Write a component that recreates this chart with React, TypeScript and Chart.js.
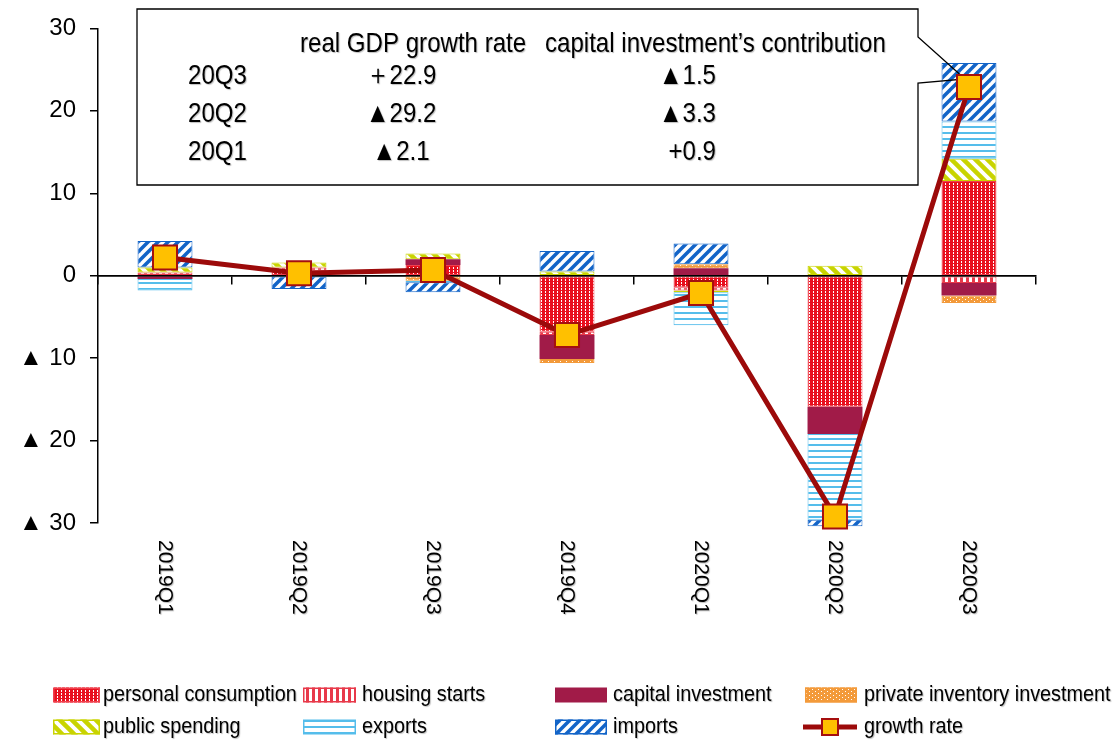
import React, { useEffect, useRef } from 'react';
import { Chart, registerables } from 'chart.js';

Chart.register(...registerables);

// ---------- data ----------
const categories = ['2019Q1', '2019Q2', '2019Q3', '2019Q4', '2020Q1', '2020Q2', '2020Q3'];
const personalConsumption = [0, 0.6, 1.3, -6.8, -1.4, -15.9, 11.5];
const housingStarts = [0.4, 0.4, 0, -0.4, -0.4, 0, -0.9];
const capitalInvestment = [-0.4, 0, 0.7, -2.9, 0.9, -3.3, -1.5];
const privateInventory = [0, 0, -0.6, -0.5, 0.5, 0, -0.9];
const publicSpending = [0.6, 0.6, 0.7, 0.5, -0.2, 1.2, 2.7];
const exportsContribution = [-1.4, 0, -0.2, 0, -4.0, -10.4, 4.5];
const importsContribution = [3.2, -1.6, -1.2, 2.5, 2.5, -0.8, 7.1];
const growthRate = [2.2, 0.3, 0.7, -7.2, -2.1, -29.2, 22.9];

const seriesLabels = [
  'personal consumption',
  'housing starts',
  'capital investment',
  'private inventory investment',
  'public spending',
  'exports',
  'imports',
  'growth rate',
];

const yTickValues = [-30, -20, -10, 0, 10, 20, 30];
const yTickLabels = ['▲ 30', '▲ 20', '▲ 10', '0', '10', '20', '30'];

const calloutHeaders = ['real GDP growth rate', 'capital investment\u2019s contribution'];
const calloutQuarters = ['20Q3', '20Q2', '20Q1'];
const calloutGrowth = ['\uFF0B22.9', '▲29.2', '▲2.1'];
const calloutCapital = ['▲1.5', '▲3.3', '+0.9'];

// ---------- styles ----------
const FONT = "'Liberation Sans', Arial, sans-serif";
const RED = '#E8101E';
const HOUSING = '#E8394A';
const CAPITAL = '#A11B48';
const INVENTORY = '#F39A3A';
const PUBLIC = '#C9D400';
const EXPORTS = '#55BDEB';
const IMPORTS = '#1264C8';
const LINE = '#9C0A0A';
const POINT = '#FFC000';

function tile(w: number, h: number, draw: (g: CanvasRenderingContext2D) => void) {
  const c = document.createElement('canvas');
  c.width = w;
  c.height = h;
  const g = c.getContext('2d')!;
  draw(g);
  return c;
}

function diag(g: CanvasRenderingContext2D, s: number, color: string, lw: number, forward: boolean) {
  g.fillStyle = '#fff';
  g.fillRect(0, 0, s, s);
  g.strokeStyle = color;
  g.lineWidth = lw;
  g.lineCap = 'square';
  for (let k = -1; k <= 1; k++) {
    g.beginPath();
    if (forward) {
      g.moveTo(k * s, s);
      g.lineTo(k * s + s, 0);
    } else {
      g.moveTo(k * s, 0);
      g.lineTo(k * s + s, s);
    }
    g.stroke();
  }
}

function buildPatterns(ctx: CanvasRenderingContext2D) {
  const p = (c: HTMLCanvasElement) => ctx.createPattern(c, 'repeat') as CanvasPattern;
  return {
    personal: p(
      tile(4, 3, (g) => {
        g.fillStyle = RED;
        g.fillRect(0, 0, 4, 3);
        g.fillStyle = '#fff';
        g.fillRect(1, 0, 1, 2);
      })
    ),
    housing: p(
      tile(6, 4, (g) => {
        g.fillStyle = '#fff';
        g.fillRect(0, 0, 6, 4);
        g.fillStyle = HOUSING;
        g.fillRect(0, 0, 3, 4);
      })
    ),
    inventory: p(
      tile(6, 4, (g) => {
        g.fillStyle = INVENTORY;
        g.fillRect(0, 0, 6, 4);
        g.fillStyle = '#fff';
        g.fillRect(2, 1, 1, 1);
        g.fillRect(5, 3, 1, 1);
      })
    ),
    publicSp: p(tile(12, 12, (g) => diag(g, 12, PUBLIC, 4.5, false))),
    exportsP: p(
      tile(4, 6, (g) => {
        g.fillStyle = '#fff';
        g.fillRect(0, 0, 4, 6);
        g.fillStyle = EXPORTS;
        g.fillRect(0, 0, 4, 2);
      })
    ),
    importsP: p(tile(10, 10, (g) => diag(g, 10, IMPORTS, 3.5, true))),
  };
}

function drawText(
  ctx: CanvasRenderingContext2D,
  text: string,
  x: number,
  y: number,
  size: number,
  align: CanvasTextAlign,
  sx = 0.92
) {
  ctx.save();
  ctx.font = `${size}px ${FONT}`;
  ctx.textBaseline = 'middle';
  ctx.textAlign = align;
  ctx.translate(x, y);
  ctx.scale(sx, 1);
  ctx.shadowColor = 'rgba(0,0,0,0.25)';
  ctx.shadowOffsetX = 1;
  ctx.shadowOffsetY = 1;
  ctx.shadowBlur = 1;
  ctx.fillStyle = '#000';
  ctx.fillText(text, 0, 0);
  ctx.restore();
}

const overlayPlugin = {
  id: 'overlay',
  beforeDatasetDraw(chart: any, args: any) {
    if (args.meta.type !== 'line') return;
    const { ctx, chartArea, scales } = chart;
    const y0 = scales.y.getPixelForValue(0);
    ctx.save();
    // zero line above the bars, below the growth line
    ctx.strokeStyle = '#000';
    ctx.lineWidth = 1.5;
    ctx.beginPath();
    ctx.moveTo(chartArea.left, y0);
    ctx.lineTo(chartArea.right, y0);
    ctx.stroke();

    // callout box
    const last = growthRate.length - 1;
    const tipX = scales.x.getPixelForValue(last) - 4;
    const tipY = scales.y.getPixelForValue(growthRate[last]) - 8;
    const L = 137, T = 9, R = 918, B = 185;
    ctx.beginPath();
    ctx.moveTo(L, T);
    ctx.lineTo(R, T);
    ctx.lineTo(R, 37);
    ctx.lineTo(tipX, tipY);
    ctx.lineTo(R, 83);
    ctx.lineTo(R, B);
    ctx.lineTo(L, B);
    ctx.closePath();
    ctx.lineWidth = 1.3;
    ctx.strokeStyle = '#000';
    ctx.stroke();
    ctx.restore();

    const fs = 28;
    const sx = 0.86;
    drawText(ctx, calloutHeaders[0], 300, 44, fs, 'left', sx);
    drawText(ctx, calloutHeaders[1], 545, 44, fs, 'left', sx);
    const rowsY = [76, 114, 152];
    calloutQuarters.forEach((q, i) => {
      drawText(ctx, q, 188, rowsY[i], fs, 'left', sx);
      drawText(ctx, calloutGrowth[i], 401, rowsY[i], fs, 'center', sx);
      drawText(ctx, calloutCapital[i], 716, rowsY[i], fs, 'right', sx);
    });
  },
  afterDraw(chart: any) {
    const { ctx, chartArea, scales } = chart;
    // rotated category labels
    chart.data.labels.forEach((lab: string, i: number) => {
      const x = scales.x.getPixelForValue(i);
      ctx.save();
      ctx.translate(x, chartArea.bottom + 17);
      ctx.rotate(Math.PI / 2);
      ctx.font = `21px ${FONT}`;
      ctx.textAlign = 'left';
      ctx.textBaseline = 'middle';
      ctx.shadowColor = 'rgba(0,0,0,0.25)';
      ctx.shadowOffsetX = 1;
      ctx.shadowOffsetY = 1;
      ctx.shadowBlur = 1;
      ctx.fillStyle = '#000';
      ctx.fillText(lab, 0, 0);
      ctx.restore();
    });

    // legend
    const cols = [53, 303, 555, 805];
    const swatchW = [47, 53, 52, 52];
    const textX = [103, 362, 613, 864];
    const rows = [695, 727];
    chart.data.datasets.forEach((ds: any, i: number) => {
      const c = i % 4;
      const x = cols[c];
      const w = swatchW[c];
      const y = rows[Math.floor(i / 4)];
      ctx.save();
      if (ds.type === 'line') {
        ctx.strokeStyle = ds.borderColor;
        ctx.lineWidth = 5;
        ctx.beginPath();
        ctx.moveTo(x - 2, y);
        ctx.lineTo(x + w, y);
        ctx.stroke();
        ctx.fillStyle = ds.pointBackgroundColor;
        ctx.strokeStyle = ds.pointBorderColor;
        ctx.lineWidth = 2;
        const cx = x + w / 2 - 1;
        ctx.fillRect(cx - 8, y - 8, 16, 16);
        ctx.strokeRect(cx - 8, y - 8, 16, 16);
      } else {
        ctx.fillStyle = ds.backgroundColor;
        ctx.fillRect(x, y - 7.5, w, 15);
        if (ds.borderWidth) {
          ctx.strokeStyle = ds.borderColor;
          ctx.lineWidth = 1.5;
          ctx.strokeRect(x + 0.75, y - 6.75, w - 1.5, 13.5);
        }
      }
      ctx.restore();
      drawText(ctx, ds.label, textX[c], y, 22, 'left', 0.9);
    });
  },
};

export default function App() {
  const ref = useRef<HTMLCanvasElement>(null);

  useEffect(() => {
    const canvas = ref.current!;
    const ctx = canvas.getContext('2d')!;
    const pats = buildPatterns(ctx);

    const bar = (label: string, data: number[], bg: any, border: string, bw = 1) => ({
      type: 'bar' as const,
      label,
      data,
      backgroundColor: bg,
      borderColor: border,
      borderWidth: bw,
      borderSkipped: false,
      barPercentage: 0.41,
      categoryPercentage: 1,
      clip: false,
      stack: 'contrib',
    });

    const chart = new Chart(ctx, {
      type: 'bar',
      data: {
        labels: categories,
        datasets: [
          bar(seriesLabels[0], personalConsumption, pats.personal, '#F0404E'),
          bar(seriesLabels[1], housingStarts, pats.housing, HOUSING),
          bar(seriesLabels[2], capitalInvestment, CAPITAL, CAPITAL, 0),
          bar(seriesLabels[3], privateInventory, pats.inventory, INVENTORY),
          bar(seriesLabels[4], publicSpending, pats.publicSp, PUBLIC),
          bar(seriesLabels[5], exportsContribution, pats.exportsP, EXPORTS),
          bar(seriesLabels[6], importsContribution, pats.importsP, IMPORTS),
          {
            type: 'line' as const,
            label: seriesLabels[7],
            data: growthRate,
            borderColor: LINE,
            borderWidth: 5,
            tension: 0,
            pointStyle: 'rect',
            pointRadius: 17,
            pointHoverRadius: 17,
            pointBackgroundColor: POINT,
            pointBorderColor: '#A50F0F',
            pointBorderWidth: 2,
            order: -1,
            clip: false,
          } as any,
        ],
      },
      options: {
        responsive: false,
        animation: false,
        devicePixelRatio: 1,
        layout: { padding: { top: 25, right: 79, bottom: 217, left: 0 } },
        plugins: {
          legend: { display: false },
          tooltip: { enabled: false },
        },
        scales: {
          x: {
            type: 'category',
            position: { y: 0 } as any,
            offset: true,
            stacked: true,
            grid: {
              display: true,
              drawOnChartArea: false,
              drawTicks: true,
              tickLength: 8,
              color: '#000',
              lineWidth: 1.5,
              offset: true,
            },
            border: { display: true, color: '#000', width: 1.5 },
            ticks: { display: false },
          },
          y: {
            type: 'linear',
            position: 'left',
            min: -30,
            max: 30,
            stacked: true,
            ticks: {
              stepSize: 10,
              color: '#000',
              padding: 14,
              font: { family: FONT, size: 24 },
              callback: (v: any) => yTickLabels[yTickValues.indexOf(Number(v))],
            },
            grid: {
              drawOnChartArea: false,
              drawTicks: true,
              tickLength: 8,
              color: '#000',
              lineWidth: 1.5,
            },
            border: { display: true, color: '#000', width: 1.5 },
            afterFit: (s: any) => {
              s.width = 98;
            },
          },
        },
      } as any,
      plugins: [overlayPlugin],
    });

    return () => chart.destroy();
  }, []);

  return (
    <div style={{ position: 'absolute', left: 0, top: 0, width: 1115, height: 740, background: '#fff' }}>
      <canvas ref={ref} width={1115} height={740} style={{ display: 'block' }} />
    </div>
  );
}
